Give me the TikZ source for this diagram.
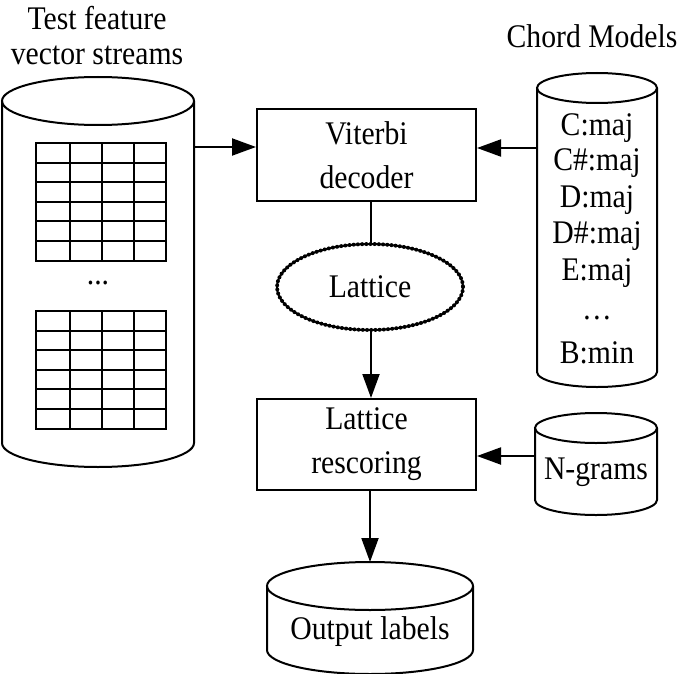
\documentclass[tikz,border=0pt]{standalone}
\usepackage{fontspec}
\setmainfont[FakeStretch=0.9]{Liberation Serif}
\usetikzlibrary{arrows.meta,shapes.geometric}
\newcommand\cylshape[5]{% cx, top cy, bottom cy, rx, ry
  \draw[line width=2pt] (#1-#4,#2) -- (#1-#4,#3) arc[start angle=180,end angle=0,x radius=#4,y radius=#5] -- (#1+#4,#2);
  \draw[line width=2pt] (#1,#2) ellipse[x radius=#4,y radius=#5];}
\newcommand\gridat[1]{% top y
  \draw[line width=2pt] (36,#1) rectangle (166,#1+118);
  \foreach \gx in {70,102,134} \draw[line width=2pt] (\gx,#1) -- (\gx,#1+118);
  \foreach \gy in {20,39,59,78,98} \draw[line width=2pt] (36,#1+\gy) -- (166,#1+\gy);}
\begin{document}
\begin{tikzpicture}[x=1pt,y=-1pt,
  lbl/.style={font=\fontsize{33}{38}\selectfont, inner sep=0pt, align=center},
  arr/.style={-{Triangle[length=24pt,width=17pt]}, line width=2pt},
  procbox/.style={draw, line width=2pt, minimum width=219pt, minimum height=91pt, inner sep=0pt, align=center, font=\fontsize{33}{44}\selectfont},
  hidden/.style={inner sep=0pt, outer sep=0pt}]
\useasboundingbox (0,0) rectangle (685,674);
% titles
\node[lbl] (ttl1) at (97,18) {Test feature};
\node[lbl] (ttl2) at (97,55) {vector streams};
\node[lbl] (ttl3) at (592,36) {Chord Models};
% feature cylinder
\cylshape{98}{101}{443}{96}{24}
\node[hidden, minimum width=192pt, minimum height=390pt] (feat) at (98,272) {};
\gridat{143}
\node[lbl] (dots) at (98,283) {...};
\gridat{311}
% boxes
\node[procbox] (vit) at (366.5,155) {Viterbi\\decoder};
\node[procbox] (resc) at (366.5,444.5) {Lattice\\rescoring};
% lattice ellipse
\node[ellipse, draw, line width=2pt,
  minimum width=186pt, minimum height=86pt, inner sep=0pt, font=\fontsize{33}{38}\selectfont] (lat) at (370,287) {Lattice};
\draw[line width=4pt, dash pattern=on 0pt off 4.2pt, line cap=round] (370,287) ellipse[x radius=93, y radius=43];
% chord cylinder
\cylshape{597}{88}{372}{60}{15}
\node[hidden, minimum width=120pt, minimum height=314pt] (chord) at (597,230) {};
\foreach \t/\yy [count=\i] in {C:maj/128, C\#:maj/163, D:maj/200, D\#:maj/236, E:maj/273, \dots/318, B:min/353}
  \node[lbl] (ch\i) at (597,\yy) {\t};
% n-grams cylinder
\cylshape{596}{428}{500}{61}{15}
\node[hidden, minimum width=122pt, minimum height=102pt] (ngr) at (596,464) {};
\node[lbl] (ngt) at (596,472) {N-grams};
% output cylinder
\cylshape{370}{586}{650}{103}{24}
\node[hidden, minimum width=206pt, minimum height=112pt] (outc) at (370,618) {};
\node[lbl] (outt) at (370,632) {Output labels};
% connectors
\draw[arr] (feat.east |- 0,147) -- (vit.west |- 0,147);
\draw[arr] (chord.west |- 0,148) -- (vit.east |- 0,148);
\draw[line width=2pt] (vit.south -| 371,0) -- (lat.north -| 371,0);
\draw[arr] (lat.south -| 371,0) -- (resc.north -| 371,0);
\draw[arr] (ngr.west |- 0,456) -- (resc.east |- 0,456);
\draw[arr] (resc.south -| 370,0) -- (outc.north -| 370,0);
\end{tikzpicture}
\end{document}
